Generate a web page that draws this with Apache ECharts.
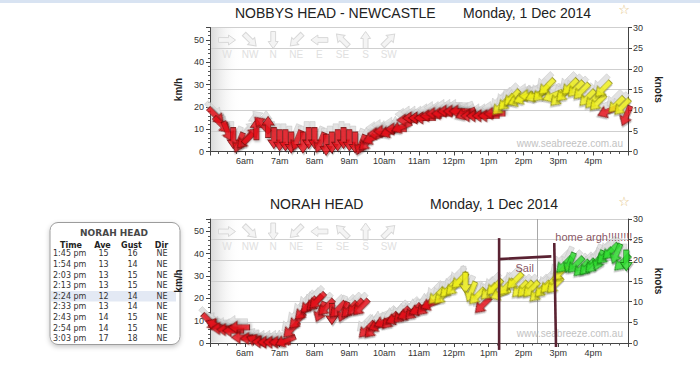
<!DOCTYPE html>
<html><head><meta charset="utf-8">
<script src="https://cdn.jsdelivr.net/npm/echarts@6/dist/echarts.min.js"></script>
<style>html,body{margin:0;padding:0;background:#fff}#c{width:700px;height:369px}</style>
</head><body><div id="c"></div>
<script>
// ---------- DATA ----------
const hourLabels = ['6am','7am','8am','9am','10am','11am','12pm','1pm','2pm','3pm','4pm'];
const compassNames = ['W','NW','N','NE','E','SE','S','SW'];

// NOBBYS HEAD - NEWCASTLE (average wind, km/h; direction wind comes from)
const nobbysTimes = ['5:10','5:20','5:30','5:40','5:50',
  '6:00','6:10','6:20','6:30','6:40','6:50',
  '7:00','7:10','7:20','7:30','7:40','7:50',
  '8:00','8:10','8:20','8:30','8:40','8:50',
  '9:00','9:10','9:20','9:30','9:40','9:50',
  '10:00','10:10','10:20','10:30','10:40','10:50',
  '11:00','11:10','11:20','11:30','11:40','11:50',
  '12:00','12:10','12:20','12:30','12:40','12:50',
  '13:00','13:10','13:20','13:30','13:40','13:50',
  '14:00','14:10','14:20','14:30','14:40','14:50',
  '15:00','15:10','15:20','15:30','15:40','15:50',
  '16:00','16:08','16:17','16:25','16:40','16:50','16:57'];
const nobbysSpeed = [16,12,9,6,4,
  5,7,10,12,11,6,
  5,5,4,5,4,6,
  6,4,3,4,5,6,
  5,4,3,4,6,8,
  9,9,10,11,14,15,
  15,15,16,17,17,18,
  18,18,17,16,16,16,
  16,17,20,22,24,23,
  24,25,25,26,29,25,
  24,26,29,28,27,24,
  23,22,28,18,21,20,16];
const nobbysDir = ['NW','NW','NNW','N','NNE',
  'NE','SW','S','SE','S','N',
  'N','N','N','NNE','N','N',
  'N','NNE','N','N','N','N',
  'N','N','NNE','NE','ENE','E',
  'E','ENE','E','ENE','E','E',
  'E','E','E','E','E','E',
  'E','E','ENE','E','E','E',
  'E','E','NE','NE','NE','ENE',
  'ENE','E','ENE','NE','NE','ENE',
  'NE','NE','NE','NE','NE','NE',
  'NE','NE','NE','ENE','NE','NE','NNE'];

// NORAH HEAD
const norahTimes = ['5:00','5:10','5:20','5:30','5:40','5:50','5:55',
  '6:10','6:20','6:30','6:40','6:50',
  '7:00','7:10','7:20','7:30','7:40','7:50',
  '8:00','8:05','8:10','8:20','8:30','8:40','8:50',
  '9:00','9:10','9:20','9:30','9:40','9:50',
  '10:00','10:10','10:20','10:30','10:40','10:50',
  '11:00','11:10','11:20','11:30','11:40','11:50',
  '12:00','12:10','12:20','12:30','12:40','12:50',
  '13:00','13:10','13:20','13:30','13:45','13:54',
  '14:03','14:13','14:24','14:33','14:43','14:54',
  '15:03','15:10','15:20','15:30','15:40','15:50',
  '16:00','16:10','16:20','16:30','16:40','16:50','16:57'];
const norahSpeed = [9.5,8,6.5,6,5.5,7,2.5,
  2,1,0.5,0.3,0.3,
  0.3,1,6,10,14,17,
  18,19,14,16,13,15,14,
  15,16,16,6,6,8,
  9.5,10,11,12.5,13,14,
  15,16,17.5,21,21,24,
  25,28,27,23,21,17,
  23,25,22,25,27.8,24.1,
  24.1,24.1,22.2,24.1,25.9,25.9,
  31.5,35,36,35,33.5,34,
  35,37,39,41,40,36,37];
const norahDir = ['NW','ESE','E','E','E','E','E',
  'E','ESE','E','E','E',
  'E','ENE','NE','NE','NE','NE',
  'NE','NE','NNE','NE','N','NE','NNE',
  'NE','NE','NE','NE','NE','ENE',
  'ENE','NE','ENE','NE','ENE','NE',
  'ENE','NE','ENE','NE','NE','NE',
  'NE','NE','N','NNE','NE','NE',
  'NE','NE','ENE','NE','NE','NE',
  'NE','NE','NE','NE','NE','NE',
  'NE','NE','NNE','NE','NE','NE',
  'NE','NNE','NE','NE','NNE','NE','N'];

// Tooltip table (knots)
const tableTimes = ['1:45 pm','1:54 pm','2:03 pm','2:13 pm','2:24 pm','2:33 pm','2:43 pm','2:54 pm','3:03 pm'];
const tableAve  = [15,13,13,13,12,13,14,14,17];
const tableGust = [16,14,15,15,14,14,15,15,18];
const tableDir  = ['NE','NE','NE','NE','NE','NE','NE','NE','NE'];
const tableHighlight = 4;
const crosshairTime = '14:24';

// hand-drawn annotations on NORAH HEAD (time, km/h)
const annotationStrokes = [
  [['13:18',47.0],['13:18',-3.1]],
  [['13:18',37.6],['14:48',38.8]],
  [['14:53',44.8],['14:56',-1.8]]
];
const annotationTexts = [
  {name:'Sail', at:['14:02',33.8], pos:'inside'},
  {name:'home argh!!!!!!!!', at:['14:54',47.3], pos:'right'}
];

// ---------- HELPERS ----------
const DIRDEG = {N:0,NNE:22.5,NE:45,ENE:67.5,E:90,ESE:112.5,SE:135,SSE:157.5,S:180,SSW:202.5,SW:225,WSW:247.5,W:270,WNW:292.5,NW:315,NNW:337.5};
function hrs(t){const p=t.split(':');return +p[0]+(+p[1])/60;}
const RED={fill:'#e9131b',stroke:'#6e0808'}, YEL={fill:'#f4f41a',stroke:'#86840e'}, GRN={fill:'#2ee02e',stroke:'#117511'};
function colorFor(v){return v<19.5?RED:(v<33?YEL:GRN);}
const ARROW='path://M6,0 L12,8.5 L8.6,8.5 L8.6,21 L3.4,21 L3.4,8.5 L0,8.5 Z';
const ASIZE=[12,21];

function arrowData(times,speeds,dirs,ghost){
  return times.map((t,i)=>{
    const c=colorFor(speeds[i]);
    const o={value:[hrs(t),speeds[i]],symbolRotate:180-DIRDEG[dirs[i]]};
    if(!ghost) o.itemStyle={color:c.fill,borderColor:c.stroke};
    return o;
  });
}

const grids=[{top:27.5},{top:219}];
const GW=418, GH=124;

function xAxisFor(g){
  return {gridIndex:g,type:'value',min:5,max:17,interval:1,
    axisLine:{show:true,lineStyle:{color:'#444'}},
    axisTick:{show:true,length:4,lineStyle:{color:'#444'}},
    minorTick:{show:true,splitNumber:4,length:2.5,lineStyle:{color:'#555'}},
    axisLabel:{formatter:v=>hourLabels[v-6]||'',fontSize:9,color:'#333',margin:5,showMinLabel:false,showMaxLabel:false},
    splitLine:{show:false},minorSplitLine:{show:false}};
}
function yAxesFor(g){
  return [
    {gridIndex:g,type:'value',min:0,max:55.56,interval:10,position:'left',
     name:'km/h',nameLocation:'middle',nameGap:22,nameRotate:90,
     nameTextStyle:{fontWeight:'bold',fontSize:10,color:'#222'},
     axisLine:{show:true,lineStyle:{color:'#444'}},
     axisTick:{show:true,length:4,lineStyle:{color:'#444'}},
     minorTick:{show:true,splitNumber:5,length:2,lineStyle:{color:'#555'}},
     axisLabel:{fontSize:9,color:'#333',margin:6,showMaxLabel:false},
     splitLine:{show:false}},
    {gridIndex:g,type:'value',min:0,max:30,interval:5,position:'right',
     name:'knots',nameLocation:'middle',nameGap:11,nameRotate:-90,
     nameTextStyle:{fontWeight:'bold',fontSize:10,color:'#222'},
     axisLine:{show:true,lineStyle:{color:'#444'}},
     axisTick:{show:true,length:4,lineStyle:{color:'#444'}},
     axisLabel:{fontSize:9,color:'#333',margin:5},
     splitLine:{show:true,lineStyle:{color:'#cfcfcf',width:1}}}
  ];
}

function arrowSeries(g,times,speeds,dirs){
  return [
    {type:'scatter',xAxisIndex:g,yAxisIndex:g*2,symbol:ARROW,symbolSize:ASIZE,symbolOffset:[-2,-6],
     silent:true,z:2,itemStyle:{color:'#dcdcdc',borderColor:'#c4c4c4',borderWidth:0.6},
     data:arrowData(times,speeds,dirs,true)},
    {type:'scatter',xAxisIndex:g,yAxisIndex:g*2,symbol:ARROW,symbolSize:ASIZE,
     silent:true,z:3,itemStyle:{borderWidth:0.8,shadowBlur:2,shadowColor:'rgba(0,0,0,0.3)',shadowOffsetX:1,shadowOffsetY:1.5},
     data:arrowData(times,speeds,dirs,false)}
  ];
}

const series=[...arrowSeries(0,nobbysTimes,nobbysSpeed,nobbysDir),...arrowSeries(1,norahTimes,norahSpeed,norahDir)];
series[3].markLine={silent:true,symbol:'none',label:{show:false},lineStyle:{color:'#a8a8a8',width:1,type:'solid'},data:[{xAxis:hrs(crosshairTime)}],z:1};
annotationStrokes.forEach(s=>{
  series.push({type:'line',xAxisIndex:1,yAxisIndex:2,clip:false,symbol:'none',silent:true,z:6,
    lineStyle:{color:'#5a2232',width:2.6},data:s.map(p=>[hrs(p[0]),p[1]])});
});
series.push({type:'scatter',xAxisIndex:1,yAxisIndex:2,symbolSize:1,silent:true,z:7,itemStyle:{color:'rgba(0,0,0,0)'},
  data:annotationTexts.map(a=>({name:a.name,value:[hrs(a.at[0]),a.at[1]],
    label:{show:true,position:a.pos,distance:0,formatter:'{b}',color:'#6a2a3a',fontSize:11,fontFamily:'Liberation Sans, Arial, sans-serif'}}))});

// ---------- GRAPHICS ----------
const G=[];
G.push({type:'rect',shape:{x:0,y:0,width:700,height:3},style:{fill:'#d8e3f2'},silent:true});
grids.forEach(gr=>{
  G.push({type:'rect',shape:{x:211,y:gr.top+0.5,width:30,height:GH-1},silent:true,z:-1,
    style:{fill:{type:'linear',x:0,y:0,x2:1,y2:0,colorStops:[{offset:0,color:'rgba(212,212,212,0.85)'},{offset:1,color:'rgba(255,255,255,0)'}]}}});
});
const compassY=[[40,54],[231.5,246]];
compassY.forEach(cy=>{
  compassNames.forEach((n,i)=>{
    const cx=227+i*23.1;
    G.push({type:'polygon',x:cx,y:cy[0],rotation:(180-DIRDEG[n])*Math.PI/180,silent:true,
      shape:{points:[[0,-8.5],[5,-1.5],[2.4,-1.5],[2.4,8.5],[-2.4,8.5],[-2.4,-1.5],[-5,-1.5]]},
      style:{fill:'#f4f4f4',stroke:'#d8d8d8',lineWidth:1}});
    G.push({type:'text',x:cx,y:cy[1],silent:true,style:{text:n,fill:'#e0e0e0',font:'10px "Liberation Sans", Arial',align:'center',verticalAlign:'middle'}});
  });
});
[143.3,333.5].forEach(y=>G.push({type:'text',x:623,y:y,silent:true,
  style:{text:'www.seabreeze.com.au',fill:'#c2c2c2',font:'10px "Liberation Sans", Arial',align:'right',verticalAlign:'middle'}}));
[9,201].forEach(y=>G.push({type:'text',x:624,y:y,silent:true,
  style:{text:'☆',fill:'#e4c17c',font:'13px "DejaVu Sans"',align:'center',verticalAlign:'middle'}}));

// table
const TF='"DejaVu Sans", Verdana, sans-serif';
G.push({type:'rect',shape:{x:50,y:222.5,width:130,height:122,r:8},silent:true,
  style:{fill:'#fff',stroke:'#9c9c9c',lineWidth:1,shadowBlur:5,shadowColor:'rgba(0,0,0,0.22)',shadowOffsetY:2}});
const row0=253.8, rowStep=10.6;
G.push({type:'rect',shape:{x:51,y:row0+tableHighlight*rowStep-5.3,width:125,height:10.6},silent:true,style:{fill:'#e3e9f4'}});
G.push({type:'text',x:114,y:232.5,silent:true,style:{text:'NORAH HEAD',fill:'#474747',font:'bold 9px '+TF,align:'center',verticalAlign:'middle'}});
const colX=[71,102.5,131.5,161.5], heads=['Time','Ave','Gust','Dir'];
heads.forEach((h,i)=>G.push({type:'text',x:colX[i],y:245.5,silent:true,style:{text:h,fill:'#222',font:'bold 8px '+TF,align:'center',verticalAlign:'middle'}}));
tableTimes.forEach((t,r)=>{
  const y=row0+r*rowStep;
  G.push({type:'text',x:53,y:y,silent:true,style:{text:t,fill:'#333',font:'8px '+TF,align:'left',verticalAlign:'middle'}});
  [tableAve[r],tableGust[r],tableDir[r]].forEach((v,k)=>G.push({type:'text',x:colX[k+1]+(k==2?0.5:1),y:y,silent:true,
    style:{text:String(v),fill:'#333',font:'8px '+TF,align:'center',verticalAlign:'middle'}}));
});

const TT={fontSize:14,fontWeight:'normal',color:'#222',fontFamily:'Liberation Sans, Arial, sans-serif'};
const option={
  animation:false,
  backgroundColor:'#fff',
  textStyle:{fontFamily:'Liberation Sans, Arial, sans-serif'},
  title:[
    {text:'NOBBYS HEAD - NEWCASTLE',left:235,top:6,padding:0,textStyle:TT},
    {text:'Monday, 1 Dec 2014',left:463,top:6,padding:0,textStyle:TT},
    {text:'NORAH HEAD',left:270,top:197,padding:0,textStyle:TT},
    {text:'Monday, 1 Dec 2014',left:430,top:197,padding:0,textStyle:TT}
  ],
  grid:grids.map(gr=>({left:210,top:gr.top,width:GW,height:GH,outerBoundsMode:'none',containLabel:false})),
  xAxis:[xAxisFor(0),xAxisFor(1)],
  yAxis:[...yAxesFor(0),...yAxesFor(1)],
  graphic:G,
  series:series
};
const chart=echarts.init(document.getElementById('c'),null,{renderer:'svg',width:700,height:369});
chart.setOption(option);
</script></body></html>
